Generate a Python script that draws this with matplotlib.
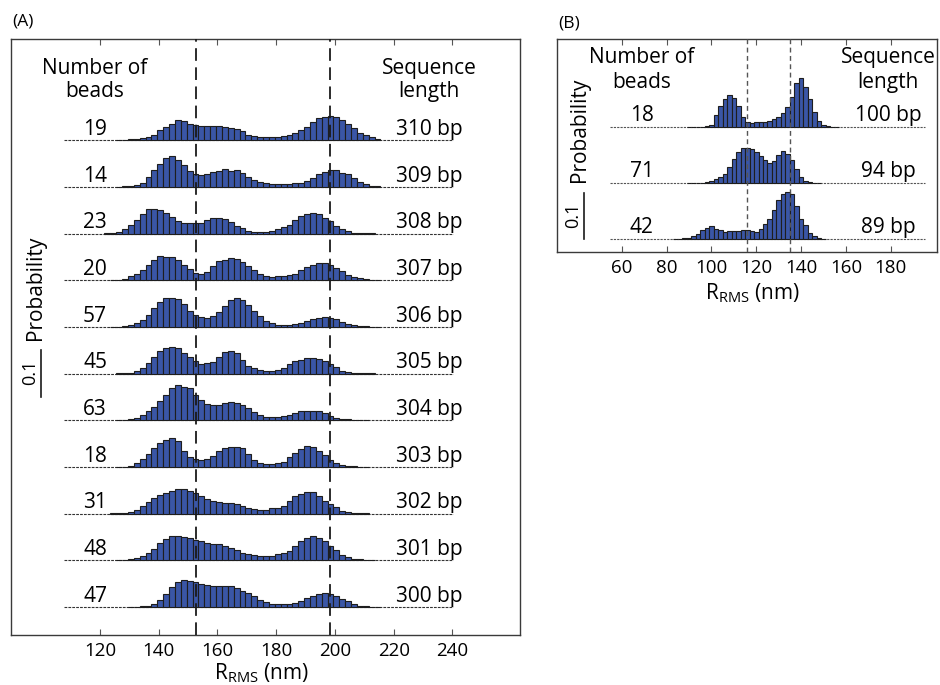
import numpy as np
import matplotlib
matplotlib.use('Agg')
import matplotlib.pyplot as plt

plt.rcParams['font.family'] = ['Open Sans', 'DejaVu Sans']
plt.rcParams['mathtext.fontset'] = 'custom'
plt.rcParams['mathtext.rm'] = 'Open Sans'
plt.rcParams['mathtext.it'] = 'Open Sans:italic'

# ---------------- data (probabilities in percent) ----------------
A_beads = [19, 14, 23, 20, 57, 45, 63, 18, 31, 48, 47]
A_lengths = ['310 bp', '309 bp', '308 bp', '307 bp', '306 bp', '305 bp',
             '304 bp', '303 bp', '302 bp', '301 bp', '300 bp']
A_bin_first = 122.5   # nm, centre of first 2-nm bin
A_bin_width = 2.0
A_310 = [0, 0, 0.04, 0.07, 0.14, 0.2, 0.5, 0.7, 1.1, 2.1, 2.8, 3.5, 4.3, 4.1, 3.5, 3.2, 3.0, 3.0, 3.0, 3.1, 2.8, 2.5, 2.3,
         1.9, 1.2, 0.9, 0.7, 0.6, 0.7, 0.7, 0.8, 1.1, 1.5, 2.1, 2.8, 3.8, 4.7, 5.0, 5.1, 5.0, 4.3, 3.5, 2.7, 1.6, 1.1, 0.6, 0.15]
A_309 = [0, 0, 0.04, 0.07, 0.14, 0.3, 0.85, 2.1, 3.5, 4.9, 6.2, 6.7, 5.7, 4.75, 3.3, 2.7, 2.55, 2.8, 3.1, 3.3, 3.75, 3.4, 3.5,
         3.0, 2.1, 1.5, 1.0, 0.8, 0.57, 0.57, 0.57, 0.57, 0.8, 0.9, 1.35, 1.9, 2.7, 3.1, 3.7, 3.6, 3.0, 2.7, 1.85, 1.0, 0.57, 0.28, 0.07]
A_308 = [0.04, 0.14, 0.35, 0.9, 1.9, 3.0, 4.2, 5.2, 5.3, 5.0, 4.5, 3.5, 2.6, 2.3, 2.2, 2.3, 2.3, 2.8, 3.4, 3.4, 3.1, 2.5, 1.6,
         1.1, 0.64, 0.43, 0.35, 0.43, 0.57, 0.9, 1.35, 1.9, 3.0, 3.7, 4.2, 4.5, 4.2, 3.4, 2.6, 1.6, 0.9, 0.5, 0.2, 0.14, 0.07, 0.04, 0]
A_307 = [0, 0.04, 0.04, 0.28, 0.8, 1.35, 2.1, 3.2, 4.3, 5.2, 4.9, 4.9, 4.3, 3.3, 2.3, 1.6, 1.3, 1.8, 3.0, 4.1, 4.4, 4.75, 4.5,
         4.0, 3.0, 2.1, 1.3, 0.8, 0.7, 0.8, 0.85, 1.2, 1.3, 2.1, 2.8, 3.3, 3.75, 3.6, 3.3, 2.55, 1.9, 1.1, 0.64, 0.43, 0.28, 0.14, 0.07]
A_306 = [0, 0.02, 0.07, 0.2, 0.35, 0.8, 1.5, 2.6, 4.0, 5.3, 6.1, 6.1, 5.9, 5.0, 3.5, 2.6, 2.1, 2.0, 2.3, 3.2, 4.5, 5.7, 6.2,
         5.7, 4.6, 3.3, 2.3, 1.35, 0.8, 0.5, 0.35, 0.43, 0.64, 0.9, 1.3, 1.6, 1.9, 2.1, 1.8, 1.6, 1.1, 0.7, 0.43, 0.2, 0.14, 0.07, 0.04]
A_305 = [0, 0, 0.04, 0.07, 0.2, 0.5, 1.1, 2.2, 3.5, 4.75, 5.4, 5.6, 5.4, 4.5, 3.5, 2.7, 2.0, 2.2, 2.55, 3.5, 4.6, 4.75, 4.3,
         3.0, 1.6, 1.1, 0.7, 0.5, 0.57, 0.7, 1.1, 2.0, 2.7, 3.0, 3.3, 3.4, 3.2, 2.7, 2.0, 1.3, 0.57, 0.35, 0.14, 0.07, 0.04, 0.02, 0]
A_304 = [0, 0, 0.04, 0.14, 0.28, 0.57, 1.1, 2.0, 2.8, 4.2, 5.5, 6.9, 7.6, 7.1, 6.9, 5.5, 4.4, 3.5, 3.3, 3.2, 3.75, 3.9, 3.75,
         3.3, 2.6, 1.8, 1.1, 0.7, 0.7, 0.8, 0.9, 1.2, 1.6, 1.9, 2.0, 2.0, 1.9, 1.6, 0.9, 0.57, 0.35, 0.28, 0.14, 0.07, 0.04, 0, 0]
A_303 = [0, 0, 0.04, 0.07, 0.28, 0.85, 1.7, 2.7, 4.0, 5.2, 5.7, 6.1, 5.5, 3.4, 2.2, 1.6, 1.4, 1.6, 2.3, 3.4, 4.1, 4.2, 4.25,
         4.0, 2.7, 1.5, 0.85, 0.57, 0.57, 0.8, 1.1, 2.1, 3.0, 3.75, 4.4, 4.2, 3.4, 2.55, 1.4, 0.85, 0.43, 0.2, 0.14, 0.07, 0.04, 0, 0]
A_302 = [0, 0.04, 0.07, 0.2, 0.43, 0.85, 1.7, 2.55, 3.3, 4.0, 4.5, 4.75, 5.25, 5.25, 4.9, 4.5, 3.7, 3.1, 2.8, 2.4, 2.3, 2.3, 2.1,
         1.6, 1.1, 1.0, 0.85, 0.85, 1.1, 1.3, 1.7, 2.7, 3.8, 4.25, 4.7, 4.7, 3.8, 2.8, 2.1, 1.35, 0.64, 0.28, 0.14, 0.07, 0.04, 0, 0]
A_301 = [0, 0, 0.04, 0.07, 0.2, 0.43, 0.85, 1.5, 2.4, 3.6, 4.6, 5.1, 5.1, 4.9, 4.7, 4.25, 4.1, 3.8, 3.5, 3.4, 3.1, 2.7, 2.3,
         1.6, 1.3, 1.1, 0.85, 0.85, 1.0, 1.3, 1.6, 2.1, 3.0, 4.1, 4.7, 5.1, 4.8, 4.1, 3.1, 2.2, 1.1, 0.64, 0.35, 0.2, 0.07, 0.04, 0]
A_300 = [0, 0, 0, 0, 0.04, 0.07, 0.14, 0.28, 0.7, 1.6, 2.8, 4.25, 5.4, 5.8, 5.6, 5.25, 4.9, 4.7, 4.5, 4.4, 4.4, 4.4, 4.0,
         3.5, 3.0, 2.3, 1.6, 1.0, 0.64, 0.57, 0.57, 0.7, 0.9, 1.35, 1.9, 2.3, 2.8, 3.0, 2.8, 2.4, 1.8, 1.2, 0.57, 0.28, 0.14, 0.07, 0.04]
A_hists = [A_310, A_309, A_308, A_307, A_306, A_305, A_304, A_303, A_302, A_301, A_300]
A_ticks = [120, 140, 160, 180, 200, 220, 240]
A_dashed = [152.7, 198.3]

B_beads = [18, 71, 42]
B_lengths = ['100 bp', '94 bp', '89 bp']
B_bin_first = 78.0
B_bin_width = 2.0
B_100 = [0, 0, 0, 0, 0, 0, 0.02, 0.03, 0.05, 0.1, 0.2, 0.5, 2.6, 4.6, 6.1, 7.0, 6.3, 4.6, 2.25, 1.1,
         0.95, 1.0, 1.0, 1.1, 1.4, 1.75, 2.25, 3.0, 4.3, 6.45, 9.5, 10.7, 8.8, 6.1, 3.2, 1.2, 0.5, 0.2, 0.07, 0.04]
B_94 = [0, 0, 0, 0, 0, 0, 0.02, 0.03, 0.04, 0.07, 0.15, 0.36, 0.95, 1.3, 1.95, 3.55, 5.15, 6.7, 7.5, 7.6,
        7.3, 6.7, 5.95, 5.0, 4.35, 4.85, 6.1, 6.9, 6.3, 5.0, 3.0, 1.2, 0.5, 0.2, 0.07, 0.03, 0, 0, 0, 0]
B_89 = [0, 0, 0, 0.04, 0.07, 0.15, 0.3, 0.65, 1.15, 1.9, 2.45, 2.75, 2.25, 1.9, 1.6, 1.65, 1.8, 1.8, 1.95, 1.95,
        1.75, 1.6, 2.25, 3.2, 4.4, 6.25, 8.4, 9.85, 10.2, 9.85, 7.1, 4.4, 3.0, 1.3, 0.65, 0.3, 0.07, 0, 0, 0]
B_hists = [B_100, B_94, B_89]
B_ticks = [60, 80, 100, 120, 140, 160, 180]
B_dashed = [116.0, 135.0]

# ---------------- style ----------------
BAR = '#3a56a6'
EDGE = '#1e1e1e'
W, H = 940, 685
fig = plt.figure(figsize=(W / 100, H / 100), dpi=100)


def box(l, t, r, b):
    return [l / W, 1 - b / H, (r - l) / W, (b - t) / H]


def fxy(x, y):
    return x / W, 1 - y / H


axA = fig.add_axes(box(11, 39.3, 520, 635))
axB = fig.add_axes(box(556.7, 39.3, 937, 251.7))

LBL = 15
TCK = 13.5


def panel(ax, hists, beads, lengths, first, width, step, xlim, ylim, ticks, dashed,
          base_x, num_x, bp_x, head_y, text_dy, dash_style, base_style):
    n = len(hists)
    for i, vals in enumerate(hists):
        off = (n - 1 - i) * step
        v = np.asarray(vals, dtype=float) / 100.0
        c = first + width * np.arange(len(v))
        m = v > 0
        ax.plot(base_x, [off, off], color=base_style[0], lw=0.8,
                dashes=base_style[1], zorder=2)
        ax.bar(c[m], v[m], width=width, bottom=off, color=BAR, edgecolor=EDGE,
               linewidth=0.8, zorder=3)
        ax.text(num_x, off + text_dy, str(beads[i]), ha='center', va='baseline', fontsize=LBL)
        ax.text(bp_x, off + text_dy, lengths[i], ha='center', va='baseline', fontsize=LBL)
    ax.text(num_x, head_y[0], 'Number of', ha='center', va='baseline', fontsize=LBL)
    ax.text(num_x, head_y[1], 'beads', ha='center', va='baseline', fontsize=LBL)
    ax.text(bp_x, head_y[0], 'Sequence', ha='center', va='baseline', fontsize=LBL)
    ax.text(bp_x, head_y[1], 'length', ha='center', va='baseline', fontsize=LBL)
    for d in dashed:
        ax.axvline(d, color=dash_style[0], lw=dash_style[1], dashes=dash_style[2], zorder=4)
    ax.set_xlim(*xlim)
    ax.set_ylim(*ylim)
    ax.set_xticks(ticks)
    ax.set_xticklabels([str(t) for t in ticks], fontsize=TCK)
    ax.set_yticks([])
    ax.tick_params(axis='x', direction='in', length=4, top=True, bottom=True,
                   color='#555555', pad=5)
    for s in ax.spines.values():
        s.set_color('#3a3a3a')
        s.set_linewidth(1.0)


# Panel A
A_step = 0.1
panel(axA, A_hists, A_beads, A_lengths, A_bin_first, A_bin_width, A_step,
      (89.7, 263.0), (-0.06, 1.216), A_ticks, A_dashed,
      [107.7, 240.2], 118.3, 232.0, (1.141, 1.092), 0.011,
      ('#1a1a1a', 1.3, (7, 3.6)), ('#333333', (2.5, 1.0)))
# scale bar A
axA.plot([100, 100], [0.45, 0.55], color='#1a1a1a', lw=1.2, zorder=3)
axA.text(96.2, 0.503, '0.1', rotation=90, ha='center', va='center', fontsize=13)
axA.text(98.2, 0.683, 'Probability', rotation=90, ha='center', va='center', fontsize=LBL)

# Panel B
B_step = 0.1217
panel(axB, B_hists, B_beads, B_lengths, B_bin_first, B_bin_width, B_step,
      (31.0, 200.6), (-0.0276, 0.434), B_ticks, B_dashed,
      [54.8, 195.3], 69.0, 178.8, (0.382, 0.3276), 0.012,
      ('#555555', 1.0, (3.5, 2.5)), ('#555555', (2.0, 1.0)))
axB.plot([43.2, 43.2], [0.0, 0.1], color='#1a1a1a', lw=1.2, zorder=3)
axB.text(38.3, 0.052, '0.1', rotation=90, ha='center', va='center', fontsize=13)
axB.text(41.0, 0.237, 'Probability', rotation=90, ha='center', va='center', fontsize=LBL)

# axis labels and panel letters
xl = r'$\mathregular{R_{RMS}}$ (nm)'
fig.text(*fxy(261, 673), xl, ha='center', va='center', fontsize=LBL)
fig.text(*fxy(752, 293), xl, ha='center', va='center', fontsize=LBL)
fig.text(*fxy(12, 22), '(A)', ha='left', va='center', fontsize=12.5)
fig.text(*fxy(558, 23), '(B)', ha='left', va='center', fontsize=12.5)

fig.savefig('out.png', dpi=100)
